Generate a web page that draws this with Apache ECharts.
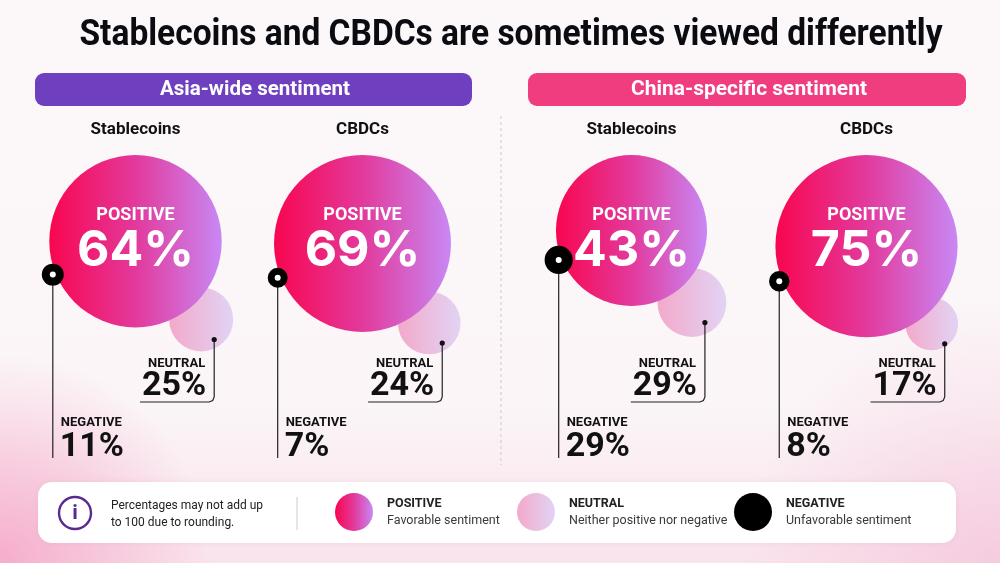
<!DOCTYPE html>
<html>
<head>
<meta charset="utf-8">
<script src="https://cdn.jsdelivr.net/npm/echarts@6/dist/echarts.min.js"></script>
<style>html,body{margin:0;padding:0;background:#fcf8f9}#main{width:1000px;height:563px}</style>
</head>
<body>
<div id="main"></div>
<script>
// values (percent)
var panels = ['Stablecoins', 'CBDCs'];
var asiaPositive = [64, 69];
var asiaNeutral = [25, 24];
var asiaNegative = [11, 7];
var chinaPositive = [43, 75];
var chinaNeutral = [29, 17];
var chinaNegative = [29, 8];
var legendNames = ['POSITIVE', 'NEUTRAL', 'NEGATIVE'];
var legendNotes = ['Favorable sentiment', 'Neither positive nor negative', 'Unfavorable sentiment'];

var SANS = 'Roboto';
var BIG = 'Inter';

function posFill() {
    return new echarts.graphic.LinearGradient(0, 0, 1, 0, [
        {offset: 0, color: '#f8064f'},
        {offset: 0.5, color: '#e3399c'},
        {offset: 1, color: '#c888f4'}
    ]);
}
function neuFill() {
    return new echarts.graphic.LinearGradient(0, 0, 1, 0, [
        {offset: 0, color: '#f3a9ca'},
        {offset: 1, color: '#e2d3f4'}
    ]);
}

var measureCtx = document.createElement('canvas').getContext('2d');
function textWidth(str, font) {
    measureCtx.font = font;
    return measureCtx.measureText(str).width;
}
// the reference uses a condensed face, so squeeze wide text to its width
function squeeze(str, font, target) {
    return Math.min(1, target / textWidth(str, font));
}

function txt(text, x, y, align, size, weight, family, color) {
    return {type: 'text', style: {text: text, x: x, y: y, align: align, verticalAlign: 'middle',
        fontSize: size, fontWeight: weight, fontFamily: family, fill: color}};
}

// one group per panel: bubbles sized from the values, plus the callouts
function renderBubbles(params, api) {
    var cat = api.value(0);
    var pos = api.value(1), neu = api.value(2), neg = api.value(3);
    var topPt = api.coord([cat, 1]);
    var botPt = api.coord([cat, 0]);
    var cx = topPt[0], top = topPt[1], bottom = botPt[1];

    var rP = 27 + 7.4 * Math.sqrt(pos);
    var rN = 6.4 * Math.sqrt(neu);
    var rG = 6 + 1.5 * Math.sqrt(neg);
    var cy = top + rP;

    var a = 50 * Math.PI / 180;
    var d = rP + rN - 16;
    var nx = cx + d * Math.cos(a), ny = cy + d * Math.sin(a);
    var ex = nx + 13, ey = ny + 20;
    var nBase = bottom - 56;

    var b = 22 * Math.PI / 180;
    var gx = cx - (rP + 3) * Math.cos(b), gy = cy + (rP + 3) * Math.sin(b);

    var lineLeft = ex - 10 - textWidth(neu + '%', 'bold 34px ' + SANS);

    return {
        type: 'group',
        children: [
            {type: 'circle', shape: {cx: nx, cy: ny, r: rN}, style: {fill: neuFill()}},
            {type: 'circle', shape: {cx: cx, cy: cy, r: rP}, style: {fill: posFill()}},
            {type: 'polyline', shape: {points: [[ex, ey], [ex, nBase - 5], [ex - 1.5, nBase - 1.5], [ex - 5, nBase], [lineLeft, nBase]]},
                style: {fill: null, stroke: '#222', lineWidth: 1.2}},
            {type: 'circle', shape: {cx: ex, cy: ey, r: 2.6}, style: {fill: '#111'}},
            {type: 'line', shape: {x1: gx, y1: gy, x2: gx, y2: bottom}, style: {stroke: '#222', lineWidth: 1.2}},
            {type: 'circle', shape: {cx: gx, cy: gy, r: rG}, style: {fill: '#000'}},
            {type: 'circle', shape: {cx: gx, cy: gy, r: 3}, style: {fill: '#fff'}},
            txt('POSITIVE', cx, top + 60, 'center', 18, 'bold', SANS, '#fff'),
            txt(pos + '%', cx, top + 96, 'center', 50, 'bold', BIG, '#fff'),
            txt('NEUTRAL', ex - 9, nBase - 38, 'right', 13, 'bold', SANS, '#111'),
            txt(neu + '%', ex - 8, nBase - 16, 'right', 34, 'bold', SANS, '#111'),
            txt('NEGATIVE', gx + 8, bottom - 35, 'left', 13, 'bold', SANS, '#111'),
            txt(neg + '%', gx + 7, bottom - 11, 'left', 34, 'bold', SANS, '#111')
        ]
    };
}

function rows(p, n, g) {
    return panels.map(function (name, i) { return [i, p[i], n[i], g[i]]; });
}

var chart = echarts.init(document.getElementById('main'));

var xAxisBase = {
    type: 'category',
    data: panels,
    position: 'top',
    axisLine: {show: false},
    axisTick: {show: false},
    axisLabel: {margin: 17, fontFamily: SANS, fontWeight: 'bold', fontSize: 17, color: '#111'}
};
var yAxisBase = {type: 'value', min: 0, max: 1, show: false};

var titleText = 'Stablecoins and CBDCs are sometimes viewed differently';
var noteText = 'Percentages may not add up\nto 100 due to rounding.';
var legendLeft = [335, 517, 734];
var legendColors = [posFill(), neuFill(), '#000'];

var option = {
    backgroundColor: new echarts.graphic.LinearGradient(0, 0, 0, 1, [
        {offset: 0, color: '#fcf8f9'},
        {offset: 0.72, color: '#fbf5f7'},
        {offset: 1, color: '#f9e3ec'}
    ]),
    animation: false,
    grid: [
        {left: 22, width: 454, top: 155, bottom: 105},
        {left: 514, width: 470, top: 155, bottom: 105}
    ],
    xAxis: [
        Object.assign({gridIndex: 0}, xAxisBase),
        Object.assign({gridIndex: 1}, xAxisBase)
    ],
    yAxis: [
        Object.assign({gridIndex: 0}, yAxisBase),
        Object.assign({gridIndex: 1}, yAxisBase)
    ],
    legend: legendNames.map(function (name, i) {
        return {
            left: legendLeft[i],
            top: 493,
            padding: 0,
            itemWidth: 38,
            itemHeight: 38,
            icon: 'circle',
            selectedMode: false,
            data: [{name: name, itemStyle: {color: legendColors[i], opacity: 1}}],
            formatter: function (n) {
                return '{t|' + n + '}\n{s|' + legendNotes[legendNames.indexOf(n)] + '}';
            },
            textStyle: {
                padding: [0, 0, 0, 9],
                rich: {
                    t: {fontFamily: SANS, fontWeight: 'bold', fontSize: 12.5, color: '#222', lineHeight: 17},
                    s: {fontFamily: SANS, fontSize: 12.5, color: '#3a3a3a', lineHeight: 17}
                }
            }
        };
    }),
    graphic: [
        {type: 'rect', z: -10, silent: true, shape: {x: 0, y: 0, width: 1000, height: 563},
            style: {fill: new echarts.graphic.RadialGradient(0, 563, 210, [
                {offset: 0, color: 'rgba(244,150,190,0.7)'},
                {offset: 1, color: 'rgba(244,150,190,0)'}
            ], true)}},
        {type: 'rect', z: -10, silent: true, shape: {x: 0, y: 0, width: 1000, height: 563},
            style: {fill: new echarts.graphic.RadialGradient(1000, 563, 260, [
                {offset: 0, color: 'rgba(242,180,210,0.5)'},
                {offset: 1, color: 'rgba(242,180,210,0)'}
            ], true)}},
        {type: 'text', x: 511, y: 36, scaleX: squeeze(titleText, 'bold 36px ' + SANS, 863),
            style: {text: titleText, x: 0, y: 0, align: 'center', verticalAlign: 'middle',
                fontSize: 36, fontWeight: 'bold', fontFamily: SANS, fill: '#0b0b12'}},
        {type: 'rect', shape: {x: 35, y: 73, width: 437, height: 33, r: 9}, style: {fill: '#6e40bf'}},
        {type: 'text', x: 255, y: 90, scaleX: squeeze('Asia-wide sentiment', 'bold 21px ' + SANS, 190),
            style: {text: 'Asia-wide sentiment', x: 0, y: 0, align: 'center', verticalAlign: 'middle',
                fontSize: 21, fontWeight: 'bold', fontFamily: SANS, fill: '#fff'}},
        {type: 'rect', shape: {x: 528, y: 73, width: 438, height: 33, r: 9}, style: {fill: '#ef3d80'}},
        {type: 'text', x: 749, y: 90, scaleX: squeeze('China-specific sentiment', 'bold 21px ' + SANS, 236),
            style: {text: 'China-specific sentiment', x: 0, y: 0, align: 'center', verticalAlign: 'middle',
                fontSize: 21, fontWeight: 'bold', fontFamily: SANS, fill: '#fff'}},
        {type: 'line', shape: {x1: 501, y1: 116, x2: 501, y2: 465}, style: {stroke: '#cfc8cb', lineWidth: 1, lineDash: [3, 3]}},
        {type: 'rect', shape: {x: 38, y: 482, width: 918, height: 61, r: 14},
            style: {fill: '#ffffff', shadowBlur: 6, shadowColor: 'rgba(200,120,160,0.15)'}},
        {type: 'circle', shape: {cx: 75, cy: 513, r: 16}, style: {fill: 'none', stroke: '#5a2a8f', lineWidth: 2.4}},
        {type: 'text', style: {text: 'i', x: 75, y: 514, align: 'center', verticalAlign: 'middle',
            fontSize: 21, fontWeight: 'bold', fontFamily: SANS, fill: '#5a2a8f'}},
        {type: 'text', x: 111, y: 514, scaleX: squeeze('Percentages may not add up', '13px ' + SANS, 152),
            style: {text: noteText, x: 0, y: 0, align: 'left', verticalAlign: 'middle',
                fontSize: 13, fontFamily: SANS, lineHeight: 17, fill: '#222'}},
        {type: 'line', shape: {x1: 297, y1: 497, x2: 297, y2: 530}, style: {stroke: '#cccccc', lineWidth: 1}}
    ],
    series: [
        {type: 'custom', xAxisIndex: 0, yAxisIndex: 0, silent: true, renderItem: renderBubbles,
            data: rows(asiaPositive, asiaNeutral, asiaNegative)},
        {type: 'custom', xAxisIndex: 1, yAxisIndex: 1, silent: true, renderItem: renderBubbles,
            data: rows(chinaPositive, chinaNeutral, chinaNegative)},
        // empty series only feed the legend swatches
        {name: 'POSITIVE', type: 'scatter', data: [], itemStyle: {color: posFill()}},
        {name: 'NEUTRAL', type: 'scatter', data: [], itemStyle: {color: neuFill()}},
        {name: 'NEGATIVE', type: 'scatter', data: [], itemStyle: {color: '#000'}}
    ]
};

chart.setOption(option);
</script>
</body>
</html>
